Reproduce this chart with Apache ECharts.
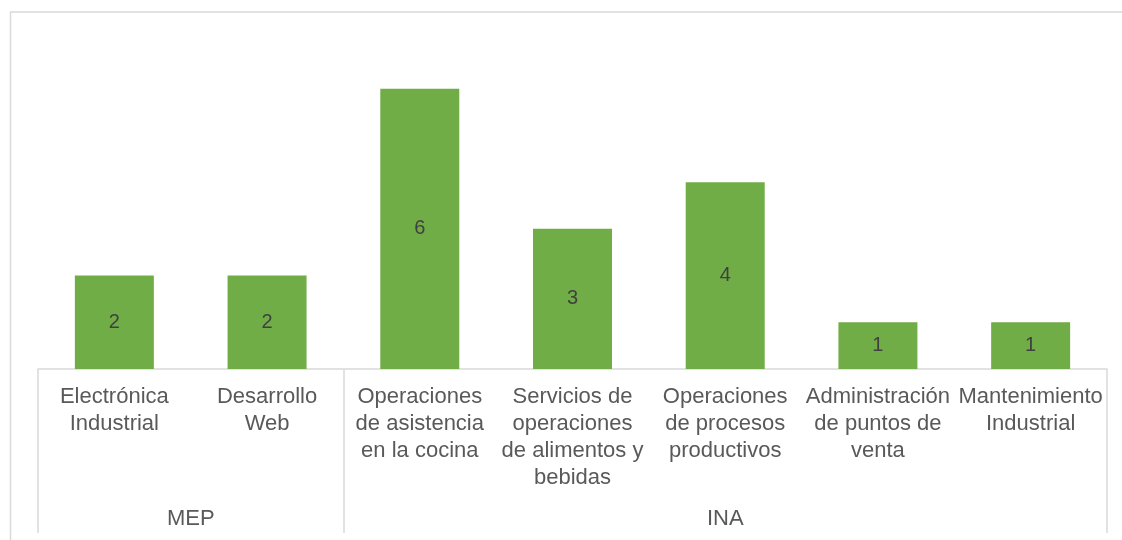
<!DOCTYPE html>
<html>
<head>
<meta charset="utf-8">
<script src="https://cdn.jsdelivr.net/npm/echarts@6/dist/echarts.min.js"></script>
<style>
html,body{margin:0;padding:0;background:#fff;}
#chart{width:1122px;height:540px;}
</style>
</head>
<body>
<div id="chart"></div>
<script>
const categories = [
  'Electrónica\nIndustrial',
  'Desarrollo\nWeb',
  'Operaciones\nde asistencia\nen la cocina',
  'Servicios de\noperaciones\nde alimentos y\nbebidas',
  'Operaciones\nde procesos\nproductivos',
  'Administración\nde puntos de\nventa',
  'Mantenimiento\nIndustrial'
];
const values = [2, 2, 6, 3, 4, 1, 1];
const groupNames = ['MEP', 'INA'];
const groupSizes = [2, 5];

// group boundaries and centres (in category units)
const groupBounds = [0];
const groupCenters = [];
groupSizes.forEach((s, i) => {
  const start = groupBounds[groupBounds.length - 1];
  groupCenters.push(start + s / 2);
  groupBounds.push(start + s);
});

const FONT = '"Liberation Sans", Arial, sans-serif';
const chart = echarts.init(document.getElementById('chart'));
chart.setOption({
  animation: false,
  backgroundColor: '#ffffff',
  graphic: [{
    type: 'rect',
    shape: { x: 10.5, y: 12, width: 1200, height: 600 },
    style: { fill: 'none', stroke: '#d9d9d9', lineWidth: 1.5 },
    silent: true, z: -10
  }],
  grid: { left: 38, right: 15, top: 42, bottom: 171, containLabel: false },
  xAxis: [{
    type: 'category',
    data: categories,
    axisLine: { show: true, lineStyle: { color: '#d9d9d9', width: 1.5 } },
    axisTick: { show: false },
    axisLabel: {
      interval: 0, margin: 14, color: '#595959',
      fontSize: 22, lineHeight: 27, fontFamily: FONT, align: 'center'
    },
    splitLine: { show: false }
  }, {
    type: 'value',
    position: 'bottom',
    min: 0, max: categories.length,
    axisLine: { show: false },
    splitLine: { show: false },
    axisTick: {
      show: true, length: 164, customValues: groupBounds,
      lineStyle: { color: '#d9d9d9', width: 1.5 }
    },
    axisLabel: {
      show: true, customValues: groupCenters, margin: 139,
      color: '#595959', fontSize: 22, fontFamily: FONT,
      formatter: function (v) {
        const i = groupCenters.indexOf(v);
        return i >= 0 ? groupNames[i] : '';
      }
    }
  }],
  yAxis: {
    type: 'value', min: 0, max: 7, show: false,
    splitLine: { show: false }
  },
  series: [{
    type: 'bar',
    data: values,
    barWidth: 79,
    itemStyle: { color: '#70ad47' },
    label: {
      show: true, position: 'inside', color: '#404040',
      fontSize: 20, fontFamily: FONT
    }
  }]
});
</script>
</body>
</html>
